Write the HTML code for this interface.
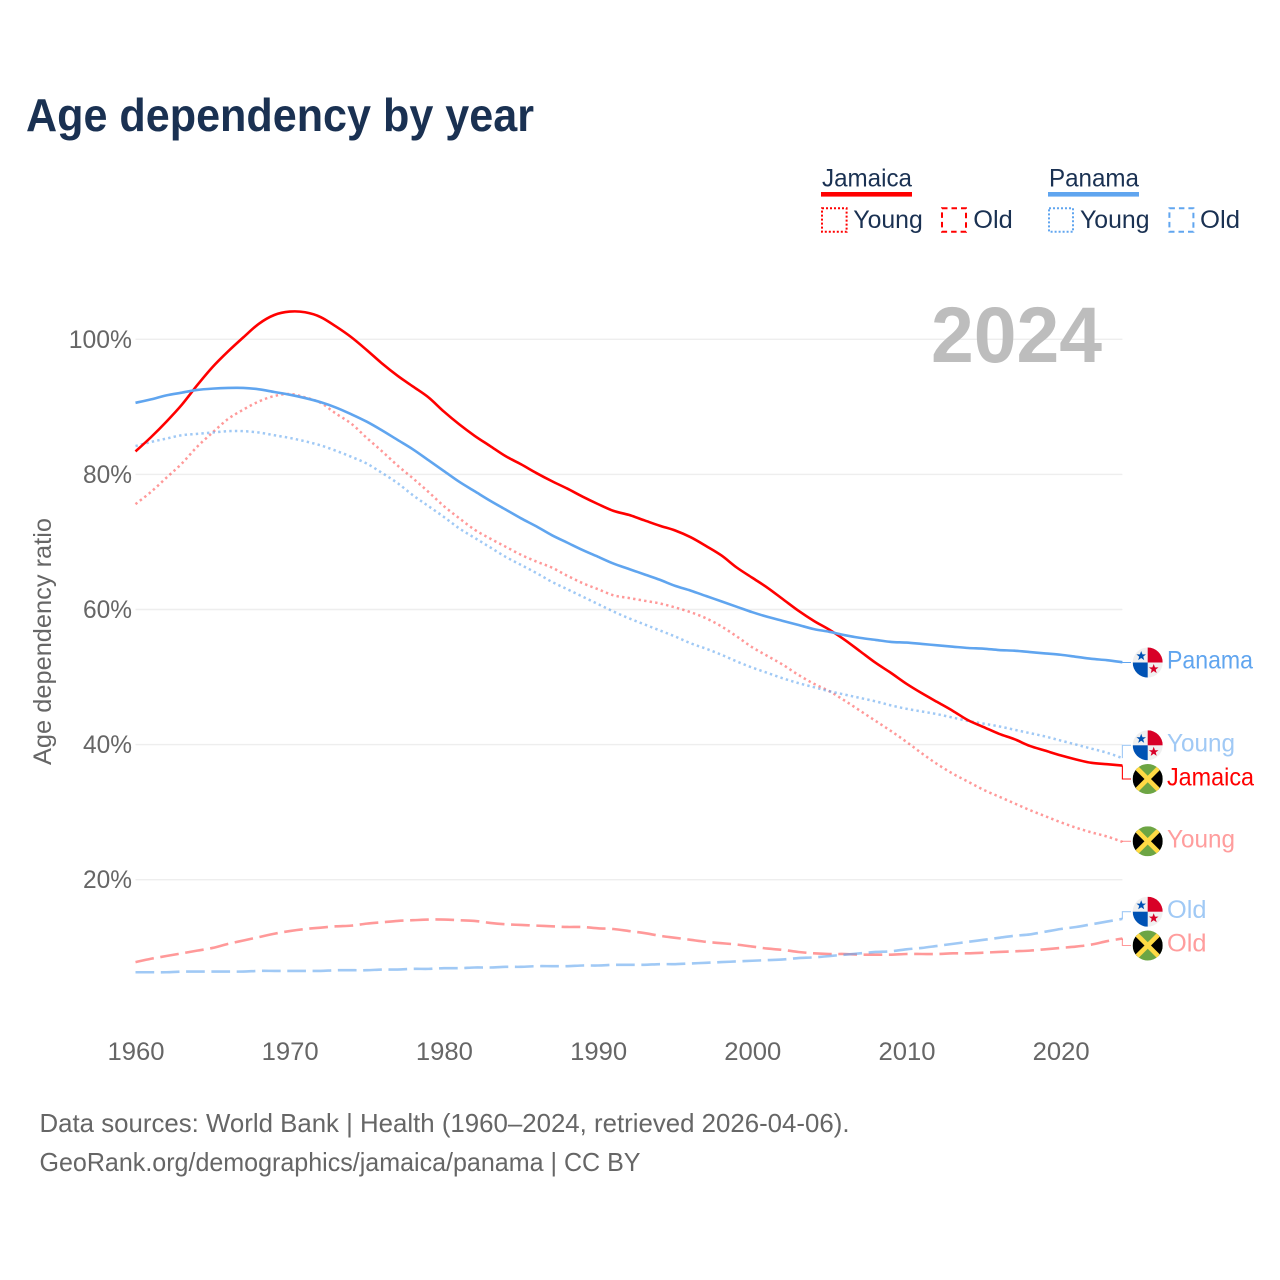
<!DOCTYPE html>
<html lang="en">
<head>
<meta charset="utf-8">
<title>Age dependency by year</title>
<style>
html,body{margin:0;padding:0;background:#fff;}
svg{display:block;font-family:"Liberation Sans",sans-serif;}
</style>
</head>
<body>
<svg id="chart" xmlns="http://www.w3.org/2000/svg" width="1280" height="1280" viewBox="0 0 1280 1280">
  <defs>
    <clipPath id="flag-clip"><circle cx="0" cy="0" r="15"/></clipPath>
    <polygon id="star" points="0,-5 1.3,-1.6 4.8,-1.6 2,0.6 3,4.1 0,2 -3,4.1 -2,0.6 -4.8,-1.6 -1.3,-1.6"/>
    <g id="panama-flag" clip-path="url(#flag-clip)">
      <rect x="-15" y="-15" width="30" height="30" fill="#f0f0f0"/>
      <rect x="0" y="-15" width="15" height="15" fill="#d80027"/>
      <rect x="-15" y="0" width="15" height="15" fill="#0052b4"/>
      <use href="#star" x="-6.5" y="-6.5" fill="#0052b4"/>
      <use href="#star" x="6" y="6.5" fill="#d80027"/>
    </g>
    <g id="jamaica-flag" clip-path="url(#flag-clip)">
      <rect x="-15" y="-15" width="30" height="30" fill="#6da544"/>
      <polygon points="-15,-15 0,0 -15,15" fill="#000"/>
      <polygon points="15,-15 0,0 15,15" fill="#000"/>
      <path d="M-13,-13 L13,13 M13,-13 L-13,13" stroke="#ffda44" stroke-width="4.6" fill="none"/>
    </g>
  </defs>

  <text x="26" y="131" font-size="46" font-weight="700" fill="#1a3152" textLength="508" lengthAdjust="spacingAndGlyphs">Age dependency by year</text>

  <g font-size="25" fill="#1a3152">
    <text x="822" y="186.5" textLength="90" lengthAdjust="spacingAndGlyphs">Jamaica</text>
    <rect x="821" y="192" width="91" height="4.6" fill="#ff0000"/>
    <rect x="822" y="208.2" width="24.6" height="23.6" fill="none" stroke="#ff0000" stroke-width="2" stroke-dasharray="2 2"/>
    <text x="853.3" y="228" textLength="69.5" lengthAdjust="spacingAndGlyphs">Young</text>
    <rect x="942" y="208.2" width="24" height="23.6" fill="none" stroke="#ff0000" stroke-width="2" stroke-dasharray="5.5 4"/>
    <text x="973.3" y="228" textLength="39.5" lengthAdjust="spacingAndGlyphs">Old</text>

    <text x="1049" y="186.5" textLength="90" lengthAdjust="spacingAndGlyphs">Panama</text>
    <rect x="1048" y="192" width="91" height="4.6" fill="#60a5ef"/>
    <rect x="1049" y="208.2" width="24" height="23.6" fill="none" stroke="#60a5ef" stroke-width="2" stroke-dasharray="2 2"/>
    <text x="1080" y="228" textLength="69.5" lengthAdjust="spacingAndGlyphs">Young</text>
    <rect x="1169.4" y="208.2" width="24" height="23.6" fill="none" stroke="#60a5ef" stroke-width="2" stroke-dasharray="5.5 4"/>
    <text x="1200" y="228" textLength="40" lengthAdjust="spacingAndGlyphs">Old</text>
  </g>

  <g id="grid"></g>
  <g id="y-ticks"></g>
  <g id="x-ticks"></g>

  <text transform="translate(51,765) rotate(-90)" x="0" y="0" font-size="25" fill="#666666" textLength="247" lengthAdjust="spacingAndGlyphs">Age dependency ratio</text>

  <text x="931" y="362" font-size="79" font-weight="700" fill="#bdbdbd" textLength="171" lengthAdjust="spacingAndGlyphs">2024</text>

  <g id="series"></g>

  <g font-size="25">
    <use href="#panama-flag" x="1147.7" y="662.5"/>
    <text x="1167" y="668.5" fill="#60a5ef" textLength="86" lengthAdjust="spacingAndGlyphs">Panama</text>
    <use href="#panama-flag" x="1147.7" y="745.3"/>
    <text x="1167" y="751.5" fill="#a0c9f5" textLength="68" lengthAdjust="spacingAndGlyphs">Young</text>
    <use href="#jamaica-flag" x="1147.7" y="779"/>
    <text x="1167" y="785.5" fill="#ff0000" textLength="87" lengthAdjust="spacingAndGlyphs">Jamaica</text>
    <use href="#jamaica-flag" x="1147.7" y="841.3"/>
    <text x="1167" y="847.5" fill="#ff9d9d" textLength="68" lengthAdjust="spacingAndGlyphs">Young</text>
    <use href="#panama-flag" x="1147.7" y="911.7"/>
    <text x="1167" y="918" fill="#a0c9f5" textLength="39.5" lengthAdjust="spacingAndGlyphs">Old</text>
    <use href="#jamaica-flag" x="1147.7" y="945.5"/>
    <text x="1167" y="951.5" fill="#ff9d9d" textLength="39.5" lengthAdjust="spacingAndGlyphs">Old</text>
  </g>

  <g font-size="26" fill="#666666">
    <text x="39.5" y="1132" textLength="810" lengthAdjust="spacingAndGlyphs">Data sources: World Bank | Health (1960–2024, retrieved 2026-04-06).</text>
    <text x="39.5" y="1171" textLength="601" lengthAdjust="spacingAndGlyphs">GeoRank.org/demographics/jamaica/panama | CC BY</text>
  </g>
</svg>

<script>
const startYear = 1960;
const xTickLabels = [1960, 1970, 1980, 1990, 2000, 2010, 2020];
const yTickLabels = [20, 40, 60, 80, 100];

const jamaicaTotal = [83.4,85.5,87.8,90.3,93.2,95.9,98.2,100.3,102.3,103.6,104.1,104.0,103.3,101.9,100.3,98.4,96.4,94.6,93.0,91.4,89.3,87.4,85.7,84.2,82.7,81.5,80.2,79.0,77.9,76.7,75.6,74.6,74.0,73.2,72.4,71.7,70.7,69.4,68.0,66.2,64.7,63.2,61.5,59.8,58.3,57.0,55.5,53.8,52.1,50.6,49.0,47.6,46.3,45.0,43.6,42.6,41.6,40.8,39.8,39.1,38.4,37.8,37.3,37.1,36.9];
const panamaTotal = [90.6,91.1,91.7,92.1,92.5,92.7,92.8,92.8,92.6,92.2,91.8,91.3,90.7,89.9,88.9,87.8,86.5,85.1,83.7,82.1,80.5,78.9,77.5,76.1,74.8,73.5,72.3,71.0,69.9,68.8,67.8,66.8,66.0,65.2,64.4,63.5,62.8,62.0,61.2,60.4,59.6,58.9,58.3,57.7,57.1,56.7,56.2,55.8,55.5,55.2,55.1,54.9,54.7,54.5,54.3,54.2,54.0,53.9,53.7,53.5,53.3,53.0,52.7,52.5,52.2];
const jamaicaYoung = [75.6,77.4,79.5,81.6,84.1,86.2,88.2,89.6,90.8,91.6,91.9,91.4,90.6,89.0,87.5,85.4,83.4,81.3,79.4,77.4,75.3,73.5,71.8,70.5,69.3,68.1,67.1,66.2,65.0,63.9,63.0,62.1,61.7,61.3,60.9,60.3,59.6,58.7,57.5,56.0,54.4,53.1,51.8,50.3,49.0,47.9,46.5,45.0,43.5,42.0,40.4,38.7,37.1,35.7,34.5,33.3,32.3,31.3,30.3,29.4,28.5,27.7,27.0,26.4,25.6];
const panamaYoung = [84.2,84.8,85.3,85.8,86.0,86.2,86.4,86.4,86.2,85.8,85.4,84.9,84.3,83.5,82.6,81.6,80.2,78.7,76.9,75.3,73.7,72.0,70.6,69.2,67.8,66.6,65.4,64.1,63.0,61.9,60.8,59.7,58.7,57.8,56.9,56.0,55.0,54.2,53.3,52.3,51.4,50.6,49.8,49.1,48.5,47.9,47.4,46.9,46.4,45.8,45.3,44.9,44.5,44.0,43.5,43.1,42.7,42.2,41.7,41.2,40.6,40.0,39.4,38.8,38.0];
const jamaicaOld = [7.8,8.3,8.7,9.1,9.5,9.9,10.5,11.0,11.5,12.0,12.4,12.7,12.9,13.1,13.2,13.5,13.7,13.9,14.0,14.1,14.1,14.0,13.9,13.6,13.4,13.3,13.2,13.1,13.0,13.0,12.8,12.7,12.4,12.1,11.7,11.4,11.1,10.8,10.6,10.4,10.1,9.8,9.6,9.3,9.1,9.0,9.0,8.9,8.9,8.9,9.0,9.0,9.0,9.1,9.1,9.2,9.3,9.4,9.5,9.7,9.9,10.1,10.4,10.9,11.3];
const panamaOld = [6.3,6.3,6.3,6.4,6.4,6.4,6.4,6.4,6.5,6.5,6.5,6.5,6.5,6.6,6.6,6.6,6.7,6.7,6.8,6.8,6.9,6.9,7.0,7.0,7.1,7.1,7.2,7.2,7.2,7.3,7.3,7.4,7.4,7.4,7.5,7.5,7.6,7.7,7.8,7.9,8.0,8.1,8.2,8.4,8.5,8.7,8.9,9.1,9.3,9.4,9.7,9.9,10.2,10.5,10.8,11.1,11.4,11.7,11.9,12.3,12.7,13.0,13.4,13.8,14.2];

const SVG_NS = 'http://www.w3.org/2000/svg';
const xAxis = function (year) { return 135.5 + (year - startYear) * 15.42; };
const yAxis = function (pct) { return 1014.8 - pct * 6.755; };
const lastX = xAxis(2024);

const gridGroup = document.getElementById('grid');
const yTickGroup = document.getElementById('y-ticks');
const xTickGroup = document.getElementById('x-ticks');
const seriesGroup = document.getElementById('series');

yTickLabels.forEach(function (v) {
  const line = document.createElementNS(SVG_NS, 'line');
  
  
  line.setAttribute('x1', xAxis(startYear));
  line.setAttribute('x2', lastX);
  line.setAttribute('y1', yAxis(v));
  line.setAttribute('y2', yAxis(v));
  line.setAttribute('stroke', '#eeeeee');
  line.setAttribute('stroke-width', '1.4');
  gridGroup.appendChild(line);

  const label = document.createElementNS(SVG_NS, 'text');
  
  
  label.setAttribute('x', 132);
  label.setAttribute('y', yAxis(v) + 8.5);
  label.setAttribute('text-anchor', 'end');
  label.setAttribute('font-size', '25');
  label.setAttribute('fill', '#666666');
  label.setAttribute('textLength', String(v).length * 14.25 + 20.5);
  label.setAttribute('lengthAdjust', 'spacingAndGlyphs');
  label.textContent = v + '%';
  yTickGroup.appendChild(label);
});

xTickLabels.forEach(function (year) {
  const label = document.createElementNS(SVG_NS, 'text');
  
  
  label.setAttribute('x', xAxis(year) + 0.5);
  label.setAttribute('y', 1060);
  label.setAttribute('text-anchor', 'middle');
  label.setAttribute('font-size', '25');
  label.setAttribute('fill', '#666666');
  label.setAttribute('textLength', '57');
  label.setAttribute('lengthAdjust', 'spacingAndGlyphs');
  label.textContent = year;
  xTickGroup.appendChild(label);
});

function smoothPath(values) {
  const px = values.map(function (v, i) { return [xAxis(startYear + i), yAxis(v)]; });
  let d = 'M' + px[0][0].toFixed(2) + ' ' + px[0][1].toFixed(2);
  for (let i = 0; i < px.length - 1; i++) {
    const p0 = px[Math.max(i - 1, 0)];
    const p1 = px[i];
    const p2 = px[i + 1];
    const p3 = px[Math.min(i + 2, px.length - 1)];
    const c1x = p1[0] + (p2[0] - p0[0]) / 6;
    const c1y = p1[1] + (p2[1] - p0[1]) / 6;
    const c2x = p2[0] - (p3[0] - p1[0]) / 6;
    const c2y = p2[1] - (p3[1] - p1[1]) / 6;
    d += ' C' + c1x.toFixed(2) + ' ' + c1y.toFixed(2) + ' ' + c2x.toFixed(2) + ' ' + c2y.toFixed(2) + ' ' + p2[0].toFixed(2) + ' ' + p2[1].toFixed(2);
  }
  return d;
}

function drawLine(values, name, color, opacity, width, dash) {
  const line = document.createElementNS(SVG_NS, 'path');
  
  
  line.setAttribute('d', smoothPath(values));
  line.setAttribute('fill', 'none');
  line.setAttribute('stroke', color);
  line.setAttribute('stroke-opacity', opacity);
  line.setAttribute('stroke-width', width);
  line.setAttribute('stroke-linejoin', 'round');
  if (dash) line.setAttribute('stroke-dasharray', dash);
  seriesGroup.appendChild(line);
}

function drawConnector(values, flagY, name, color, opacity) {
  const endY = yAxis(values[values.length - 1]);
  const path = document.createElementNS(SVG_NS, 'path');
  
  
  path.setAttribute('d', 'M' + lastX + ' ' + endY + ' V' + flagY + ' H1131');
  path.setAttribute('fill', 'none');
  path.setAttribute('stroke', color);
  path.setAttribute('stroke-opacity', opacity);
  path.setAttribute('stroke-width', '1.1');
  seriesGroup.appendChild(path);
}

const RED = '#ff0000';
const BLUE = '#60a5ef';
const DOT = '2.4 3.2';
const DASH = '18.7 6.6';

drawLine(jamaicaYoung, 'jamaica-young-line', RED, 0.4, 2.5, DOT);
drawLine(panamaYoung, 'panama-young-line', BLUE, 0.6, 2.5, DOT);
drawLine(jamaicaOld, 'jamaica-old-line', RED, 0.4, 2.6, DASH);
drawLine(panamaOld, 'panama-old-line', BLUE, 0.6, 2.6, DASH);
drawLine(jamaicaTotal, 'jamaica-total-line', RED, 1, 2.6);
drawLine(panamaTotal, 'panama-total-line', BLUE, 1, 2.6);

drawConnector(jamaicaYoung, 841.3, 'jamaica-young-connector', RED, 0.4);
drawConnector(panamaYoung, 745.3, 'panama-young-connector', BLUE, 0.6);
drawConnector(jamaicaOld, 945.5, 'jamaica-old-connector', RED, 0.4);
drawConnector(panamaOld, 911.7, 'panama-old-connector', BLUE, 0.6);
drawConnector(jamaicaTotal, 779, 'jamaica-total-connector', RED, 1);
drawConnector(panamaTotal, 662.5, 'panama-total-connector', BLUE, 1);
</script>
</body>
</html>
